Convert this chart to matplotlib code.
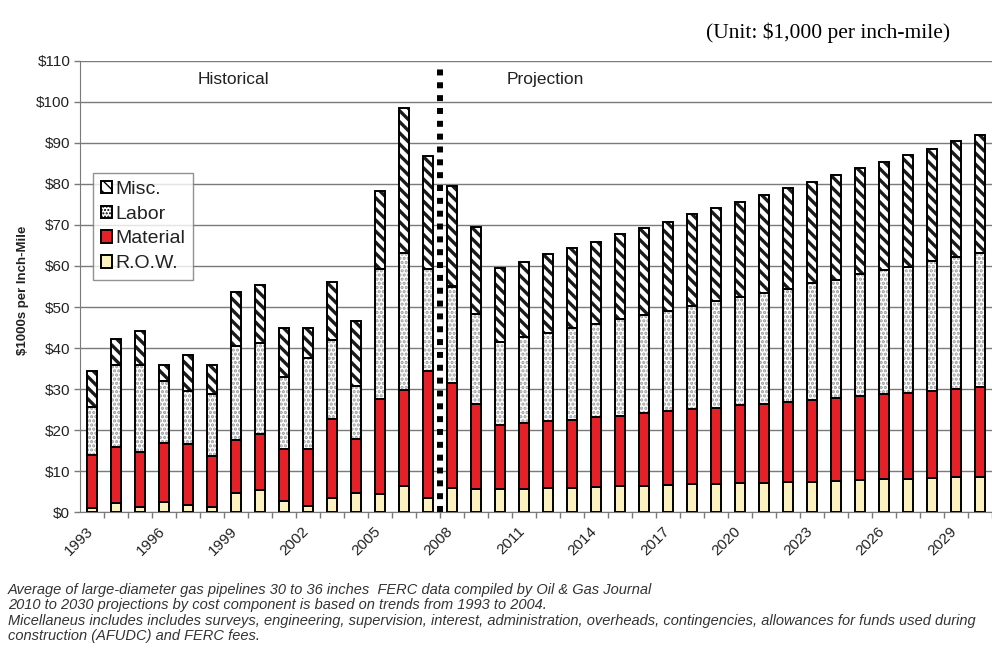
import matplotlib
matplotlib.use("Agg")
import matplotlib.pyplot as plt
import matplotlib.transforms as mtransforms
import numpy as np
from matplotlib.patches import Patch

plt.rcParams['font.family'] = ['Liberation Sans', 'DejaVu Sans']

years = list(range(1993, 2031))
row = [1.1, 2.2, 1.4, 2.6, 1.8, 1.2, 4.6, 5.4, 2.8, 1.6, 3.4, 4.6, 4.5, 6.3, 3.4,
       5.8, 5.6, 5.6, 5.6, 5.8, 5.8, 6.1, 6.3, 6.4, 6.7, 6.8, 6.9, 7.1, 7.2, 7.4,
       7.5, 7.7, 7.9, 8.0, 8.2, 8.4, 8.5, 8.7]
material = [12.9, 13.8, 13.2, 14.2, 14.8, 12.5, 13.0, 13.7, 12.6, 13.8, 19.3, 13.2,
            23.0, 23.5, 30.9, 25.8, 20.9, 15.7, 16.2, 16.4, 16.8, 17.2, 17.2, 17.7,
            18.0, 18.3, 18.6, 19.0, 19.3, 19.5, 19.9, 20.1, 20.4, 20.7, 20.9, 21.2,
            21.5, 21.9]
labor = [11.6, 19.9, 21.3, 15.3, 13.0, 15.1, 23.0, 22.2, 17.5, 22.3, 19.3, 13.0,
         31.7, 33.3, 24.9, 23.4, 21.7, 20.1, 20.8, 21.4, 22.2, 22.6, 23.5, 24.0,
         24.4, 25.2, 26.0, 26.3, 27.0, 27.6, 28.4, 28.9, 29.7, 30.3, 30.7, 31.6,
         32.3, 32.6]
misc = [8.7, 6.3, 8.3, 3.9, 8.7, 7.2, 13.1, 14.0, 12.1, 7.1, 14.0, 15.9, 19.1,
        35.5, 27.6, 24.5, 21.4, 18.0, 18.4, 19.3, 19.6, 20.0, 20.8, 21.1, 21.7,
        22.3, 22.5, 23.2, 23.8, 24.4, 24.7, 25.4, 25.8, 26.4, 27.2, 27.4, 28.1,
        28.8]
projection_start = 2008
y_ticks = list(range(0, 111, 10))

W, H = 992, 649
fig = plt.figure(figsize=(W / 100, H / 100), dpi=100)
fig.patch.set_facecolor('white')
ax_left, ax_bottom_px, ax_top_px = 80, 512.3, 60.7
ax = fig.add_axes([ax_left / W, 1 - ax_bottom_px / H,
                   (W - ax_left) / W, (ax_bottom_px - ax_top_px) / H])

x = np.arange(len(years))
bw = 0.45
edge = dict(edgecolor='black', linewidth=1.4)

row_a = np.array(row)
mat_a = np.array(material)
lab_a = np.array(labor)
misc_a = np.array(misc)

ax.bar(x, row_a, bw, color='#fcf2c0', zorder=3, **edge)
ax.bar(x, mat_a, bw, bottom=row_a, color='#e42127', zorder=3, **edge)

with plt.rc_context({'hatch.linewidth': 1.6}):
    ax.bar(x, lab_a, bw, bottom=row_a + mat_a, color='white',
           edgecolor='#9a9a9a', hatch='....', linewidth=0, zorder=3)
ax.bar(x, lab_a, bw, bottom=row_a + mat_a, fill=False, zorder=4, **edge)

with plt.rc_context({'hatch.linewidth': 2.4}):
    ax.bar(x, misc_a, bw, bottom=row_a + mat_a + lab_a, color='white',
           edgecolor='#1a1a1a', hatch='\\\\\\', linewidth=0, zorder=3)
ax.bar(x, misc_a, bw, bottom=row_a + mat_a + lab_a, fill=False, zorder=4, **edge)

# separator between historical and projected years
sep = years.index(projection_start) - 0.5
ax.vlines(sep, 0, 108.5, colors='black', linewidth=4.3,
          linestyles=(0, (1.0, 1.15)), zorder=5)

ax.set_ylim(0, 110)
ax.set_xlim(-0.5, (W - ax_left) / 24.17 - 0.5)
ax.set_yticks(y_ticks)
ax.set_yticklabels([f'${v}' for v in y_ticks])
ax.yaxis.grid(True, color='#7a7a7a', linewidth=1.0, zorder=0)
ax.set_axisbelow(True)
for s in ['top', 'right']:
    ax.spines[s].set_visible(False)
ax.spines['left'].set_color('#7a7a7a')
ax.spines['bottom'].set_color('#7a7a7a')
ax.tick_params(axis='y', length=4, width=1, color='#7a7a7a', labelsize=11,
               labelcolor='#222222', pad=3)

ax.set_xticks(x)
ax.set_xticklabels([str(y) if (y - years[0]) % 3 == 0 else '' for y in years],
                   rotation=45, ha='right', rotation_mode='anchor', fontsize=11,
                   color='#222222')
ax.tick_params(axis='x', length=0, pad=7)
shift = mtransforms.ScaledTranslation(-6 / 100, -2 / 100, fig.dpi_scale_trans)
for lbl in ax.get_xticklabels():
    lbl.set_transform(lbl.get_transform() + shift)
ax.set_xticks(np.arange(len(years)) + 0.5, minor=True)
ax.tick_params(axis='x', which='minor', length=4, width=1, color='#7a7a7a')

ax.text(5.9, 105.3, 'Historical', ha='center', va='center', fontsize=12.5,
        color='#222222')
ax.text(18.9, 105.3, 'Projection', ha='center', va='center', fontsize=12.5,
        color='#222222')

fig.text(23 / W, 1 - 290 / H, '$1000s per Inch-Mile', rotation=90,
         ha='center', va='center', fontsize=9.5, fontweight='bold',
         color='#222222')

handles = [
    Patch(facecolor='white', edgecolor='black', hatch='\\\\\\', linewidth=1.4),
    Patch(facecolor='white', edgecolor='black', hatch='.....', linewidth=1.4),
    Patch(facecolor='#e42127', edgecolor='black', linewidth=1.4),
    Patch(facecolor='#fcf2c0', edgecolor='black', linewidth=1.4),
]
leg = ax.legend(handles, ['Misc.', 'Labor', 'Material', 'R.O.W.'],
                loc='upper left', bbox_to_anchor=(93 / W, 1 - 173 / H),
                bbox_transform=fig.transFigure, fontsize=14,
                handlelength=0.6, handleheight=0.6, handletextpad=0.15,
                labelspacing=0.4, borderpad=0.4, borderaxespad=0,
                frameon=True, fancybox=False)
leg.get_frame().set_edgecolor('#777777')
leg.get_frame().set_linewidth(1.0)
for t in leg.get_texts():
    t.set_color('#222222')

fig.text(950 / W, 1 - 33 / H, '(Unit: $1,000 per inch-mile)', ha='right',
         va='center', fontsize=15.5, family='Liberation Serif', color='black')

notes = [
    'Average of large-diameter gas pipelines 30 to 36 inches  FERC data compiled by Oil & Gas Journal',
    '2010 to 2030 projections by cost component is based on trends from 1993 to 2004.',
    'Micellaneus includes includes surveys, engineering, supervision, interest, administration, overheads, contingencies, allowances for funds used during',
    'construction (AFUDC) and FERC fees.',
]
for i, line in enumerate(notes):
    fig.text(8 / W, 1 - (590 + 15.4 * i) / H, line, ha='left', va='center',
             fontsize=10.5, style='italic', color='#333333')

fig.savefig('out.png', dpi=100)
